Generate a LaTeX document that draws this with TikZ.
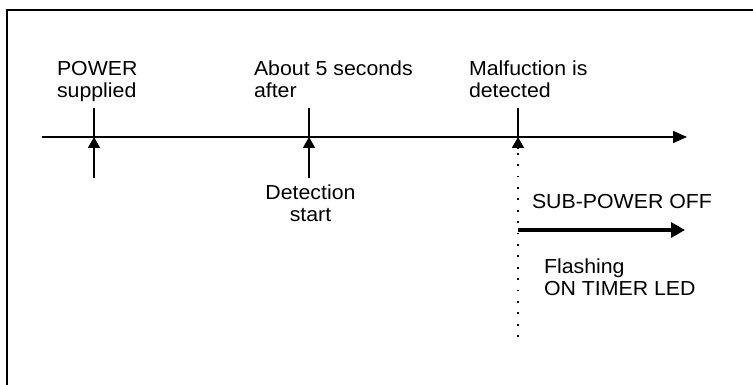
\documentclass[tikz,border=0pt]{standalone}
\usepackage{fontspec}
\setmainfont{Liberation Sans}[FakeStretch=1.05]
\usetikzlibrary{arrows.meta}
\begin{document}
\begin{tikzpicture}[x=1pt,y=-1pt,
  lbl/.style={inner sep=0pt,outer sep=0pt,font=\fontsize{20.3}{22}\selectfont},
  line/.style={line width=1.6pt},
  up/.style={line width=1.6pt,-{Triangle[length=11pt,width=12pt]}},
  axis/.style={line width=1.6pt,-{Triangle[length=14pt,width=12pt]}},
  thick arrow/.style={line width=3.2pt,-{Triangle[length=14pt,width=15pt]}},
  dotline/.style={line width=1.6pt,dash pattern=on 1.8pt off 9.6pt}]
\useasboundingbox (0,0) rectangle (753,385);
% frame
\draw[line width=1.8pt] (7,390) -- (7,10) -- (756,10);
% timeline
\coordinate (ax0) at (42,137);
\coordinate (ax1) at (687,137);
\draw[axis] (ax0) -- (ax1);
% ticks
\coordinate (t1top) at (94,108); \coordinate (t1) at (94,137); \coordinate (t1bot) at (94,178);
\coordinate (t2top) at (309,108); \coordinate (t2) at (309,137); \coordinate (t2bot) at (309,178);
\coordinate (t3top) at (518,108); \coordinate (t3) at (518,137); \coordinate (t3bot) at (518,337);
\coordinate (t3arr) at (518,148);
\draw[line] (t1top) -- (t1);
\draw[up] (t1bot) -- (t1);
\draw[line] (t2top) -- (t2);
\draw[up] (t2bot) -- (t2);
\draw[line] (t3top) -- (t3);
\draw[dotline] (t3bot) -- (t3arr);
\draw[up] (t3arr) -- (t3);
% sub-power arrow
\coordinate (s0) at (518,230);
\coordinate (s1) at (685,230);
\draw[thick arrow] (s0) -- (s1);
% labels (anchored at the baseline of the last line)
\node[lbl,anchor=base west,align=left] (power) at (57,98) {POWER\\supplied};
\node[lbl,anchor=base west,align=left] (about) at (254,98) {About 5 seconds\\after};
\node[lbl,anchor=base west,align=left] (malf) at (469,98) {Malfuction is\\detected};
\node[lbl,anchor=base,align=center] (detect) at (310.5,222) {Detection\\start};
\node[lbl,anchor=base west] (sub) at (532,209) {SUB-POWER OFF};
\node[lbl,anchor=base west,align=left] (flash) at (544,295) {Flashing\\ON TIMER LED};
\end{tikzpicture}
\end{document}
